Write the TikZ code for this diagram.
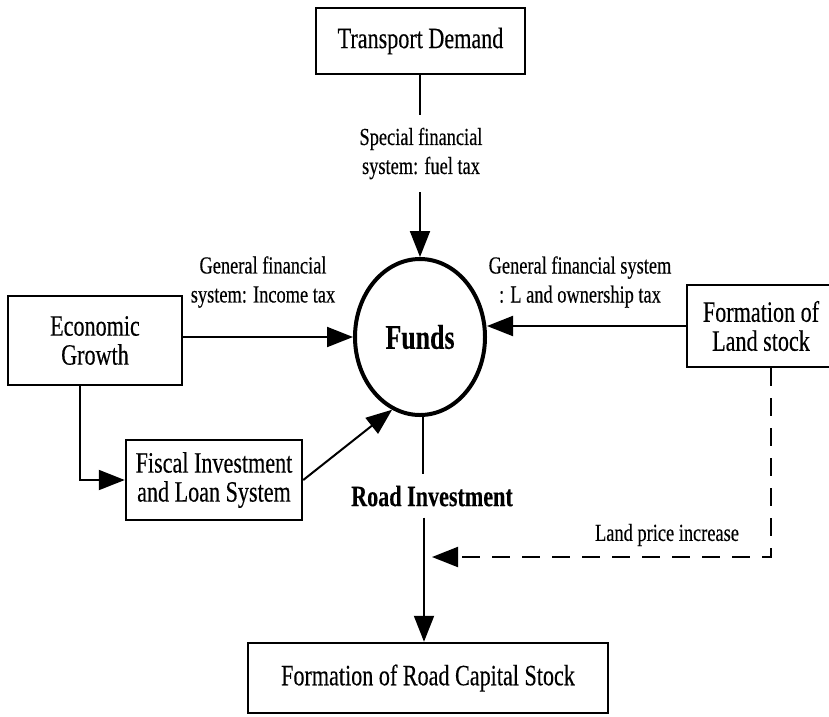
\documentclass[tikz,border=0pt]{standalone}
\usepackage{fontspec}
\setmainfont{Liberation Serif}[FakeStretch=0.75, FakeBold=0.3]
\usetikzlibrary{arrows.meta,shapes.geometric}
\begin{document}
\begin{tikzpicture}[x=1pt,y=-1pt,
  box/.style={draw, line width=2.5pt, align=center, inner sep=0pt,
    font=\fontsize{29.5}{29}\selectfont},
  lbl/.style={align=center, inner sep=0pt, font=\fontsize{24.5}{29}\selectfont},
  bold/.style={inner sep=0pt, font=\bfseries\fontsize{29.5}{30}\selectfont},
  conn/.style={line width=2pt},
  arr/.style={line width=2pt, -{Triangle[length=26pt,width=20pt]}},
  dasharr/.style={line width=2pt, dash pattern=on 18pt off 12pt, -{Triangle[length=26pt,width=20pt]}}]
\useasboundingbox (0,0) rectangle (829,716);
\clip (0,0) rectangle (829,716);

\node[box, minimum width=209pt, minimum height=66pt] (td) at (420.5,41) {Transport Demand};
\node[draw, ellipse, line width=4pt, minimum width=130pt, minimum height=156pt, inner sep=0pt,
  font=\bfseries\fontsize{34.5}{34}\selectfont] (fu) at (420,337) {Funds};
\node[box, minimum width=174pt, minimum height=89pt] (eg) at (95,340.5) {Economic\\Growth};
\node[box, minimum width=176pt, minimum height=80pt] (fi) at (214,480) {Fiscal Investment\\and Loan System};
\node[box, minimum width=148pt, minimum height=82pt] (ld) at (761,326) {Formation of\\Land stock};
\node[box, minimum width=360pt, minimum height=70pt] (rc) at (428,678) {Formation of Road Capital Stock};

\node[lbl, minimum height=77pt] (sp) at (421,153.5) {Special financial\\system: fuel tax};
\node[lbl] (it) at (263,282) {General financial\\system: Income tax};
\node[lbl] (lt) at (580,282) {General financial system\\: L and ownership tax};
\node[bold, minimum height=43pt] (ri) at (432,496) {Road Investment};
\node[lbl] (lp) at (667,535) {Land price increase};

\draw[conn] (td.south -| fu.north) -- (sp.north -| fu.north);
\draw[arr] (sp.south -| fu.north) -- (fu.north);
\draw[arr] (eg.east |- fu.west) -- (fu.west);
\draw[arr] (ld.west) -- (ld.west -| fu.east);
\draw[arr] ([xshift=-15pt]eg.south) |- (fi.west);
\draw[arr] (fi.east) -- (fu.249);
\draw[conn] ([xshift=3pt]fu.south) -- ([xshift=3pt]fu.south |- ri.north);
\draw[arr] ([xshift=4pt]ri.south -| fu.south) -- ([xshift=4pt]rc.north -| fu.south);
\coordinate (dt) at (432,557);
\draw[dasharr] ([xshift=10pt]ld.south) |- (dt);
\end{tikzpicture}
\end{document}
